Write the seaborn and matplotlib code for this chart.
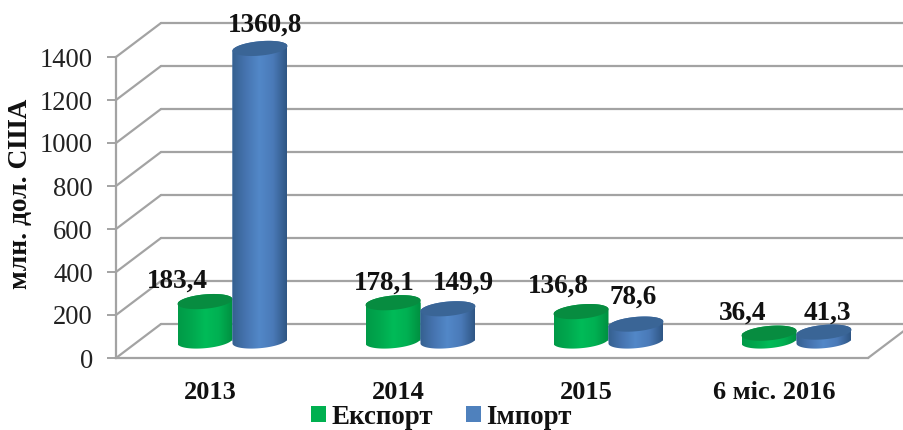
import numpy as np
import pandas as pd
import matplotlib
matplotlib.use("Agg")
import matplotlib.pyplot as plt
import seaborn as sns
from matplotlib.colors import LinearSegmentedColormap
from matplotlib.patches import PathPatch, Patch
from matplotlib.path import Path
from matplotlib.transforms import ScaledTranslation, IdentityTransform

categories = ["2013", "2014", "2015", "6 міс. 2016"]
export_values = [183.4, 178.1, 136.8, 36.4]
import_values = [1360.8, 149.9, 78.6, 41.3]
export_labels = ["183,4", "178,1", "136,8", "36,4"]
import_labels = ["1360,8", "149,9", "78,6", "41,3"]
series_names = ["Експорт", "Імпорт"]
y_ticks = [0, 200, 400, 600, 800, 1000, 1200, 1400]
y_title = "млн. дол. США"

sns.set_style("white")
plt.rcParams["font.family"] = ["Liberation Serif", "DejaVu Serif"]

W, H = 904, 430
DPI = 100
px = lambda v: v / DPI
GREY = "#a3a3a3"
TXT = "#111111"

fig = plt.figure(figsize=(W / DPI, H / DPI), dpi=DPI, facecolor="white")
ax = fig.add_axes([116 / W, (H - 358) / H, (868 - 116) / W, (358 - 57) / H])

df = pd.DataFrame({
    "cat": categories * 2,
    "val": export_values + import_values,
    "series": [series_names[0]] * 4 + [series_names[1]] * 4,
})
colors = {"Експорт": "#00b050", "Імпорт": "#4f81bd"}
sns.barplot(data=df, x="cat", y="val", hue="series", palette=colors, width=0.585,
            gap=0, saturation=1, legend=False, ax=ax, dodge=True, errorbar=None, zorder=5)
ax.set_xlim(-0.5, 3.5)
ax.set_ylim(0, 1400)
ax.set_facecolor("none")
ax.set_xlabel("")
ax.set_ylabel(y_title, fontsize=19.8, fontweight="bold", color=TXT)
ax.yaxis.set_label_coords((33 - 116) / (868 - 116), (358 - 194) / (358 - 57))
ax.set_yticks(y_ticks)
ax.tick_params(axis="y", length=6.5, width=1.4, color=GREY, pad=10, labelsize=19.2,
               labelcolor="#222222", left=True)
ax.tick_params(axis="x", length=0, pad=16.5, labelsize=19)
for t in ax.get_xticklabels():
    t.set_fontweight("bold")
    t.set_color(TXT)
for s in ["top", "right"]:
    ax.spines[s].set_visible(False)
for s in ["left", "bottom"]:
    ax.spines[s].set_color(GREY)
    ax.spines[s].set_linewidth(1.6)

# depth of the 3-D box
back = ax.transData + ScaledTranslation(px(45), px(34), fig.dpi_scale_trans)
mid = ax.transData + ScaledTranslation(px(22.5), px(17), fig.dpi_scale_trans)
dx_data = 4 * 45 / (868 - 116)
dy_data = 1400 * 34 / (358 - 57)
for v in y_ticks:
    ax.plot([-0.5, 3.5], [v, v], transform=back, color=GREY, lw=1.6, clip_on=False, zorder=1)
    ax.plot([-0.5, -0.5 + dx_data], [v, v + dy_data], color=GREY, lw=1.6, clip_on=False, zorder=1)
ax.plot([3.5, 3.5 + dx_data], [0, dy_data], color=GREY, lw=1.6, clip_on=False, zorder=1)

fig.canvas.draw()

ramps = {
    "Експорт": LinearSegmentedColormap.from_list("g", ["#009a47", "#00a84e", "#00bb58", "#00b052", "#008f40"]),
    "Імпорт": LinearSegmentedColormap.from_list("b", ["#35608f", "#4674b0", "#5288c8", "#4a7ab8", "#2f5684"]),
}
tops = {"Експорт": "#078c40", "Імпорт": "#3a6596"}
RY, TILT = 7.2, np.tan(np.radians(5.0))
grad = np.linspace(0, 1, 128).reshape(1, -1)


def arc(cx, cy, rx, a, b):
    th = np.linspace(a, b, 60)
    return np.column_stack([cx + rx * np.cos(th), cy + RY * np.sin(th) + rx * np.cos(th) * TILT])


# label offsets (pixels) from the top of each cylinder
off_e = [(-28, 20), (-9, 20), (-23, 25), (-26, 20)]
off_i = [(5, 23), (15, 26), (-3, 27), (3, 19)]

bars = []
for cont, name, labs, offs in zip(ax.containers, series_names,
                                  [export_labels, import_labels], [off_e, off_i]):
    for p, lab, o in zip(cont.patches, labs, offs):
        bars.append((p, name, lab, o))
bars.sort(key=lambda b: b[0].get_x())

for i, (p, name, lab, o) in enumerate(bars):
    z = 5 + i * 0.1
    p.set_transform(mid)
    p.set_zorder(z)
    p.set_edgecolor("none")
    x0, y0 = mid.transform((p.get_x(), 0))
    x1, y1 = mid.transform((p.get_x() + p.get_width(), p.get_height()))
    cx, rx = (x0 + x1) / 2, (x1 - x0) / 2
    body = np.vstack([arc(cx, y0, rx, np.pi, 2 * np.pi), arc(cx, y1, rx, 0, np.pi)])
    body_path = Path(np.vstack([body, body[0]]), closed=True)
    p.set_clip_box(fig.bbox)
    p.set_clip_path(body_path, IdentityTransform())
    im = ax.imshow(grad, cmap=ramps[name], aspect="auto", origin="lower",
                   extent=(x0, x1, y0 - RY - 5, y1 + RY + 5), transform=IdentityTransform(),
                   interpolation="bilinear", zorder=z + 0.01)
    im.set_clip_box(fig.bbox)
    im.set_clip_path(body_path, IdentityTransform())
    top = arc(cx, y1, rx, 0, 2 * np.pi)
    ax.add_patch(PathPatch(Path(top, closed=True), transform=IdentityTransform(),
                           facecolor=tops[name], edgecolor="none", zorder=z + 0.02, clip_on=False))
    ax.annotate(lab, xy=(cx, y1), xycoords=IdentityTransform(),
                xytext=(px(o[0]) * 72, px(o[1]) * 72), textcoords="offset points",
                ha="center", va="center", fontsize=19.6, fontweight="bold", color=TXT,
                zorder=20, annotation_clip=False)

ax.set_xlim(-0.5, 3.5)
ax.set_ylim(0, 1400)

handles = [Patch(facecolor=colors[n], edgecolor="none") for n in series_names]
fig.legend(handles, series_names, loc="center", bbox_to_anchor=(441.5 / W, (H - 417) / H),
           ncol=2, frameon=False, handlelength=0.55, handleheight=0.55, handletextpad=0.2,
           columnspacing=1.22, borderpad=0, borderaxespad=0,
           prop={"size": 19.4, "weight": "bold"}, labelcolor=TXT)

fig.savefig("out.png", dpi=DPI, facecolor="white")
